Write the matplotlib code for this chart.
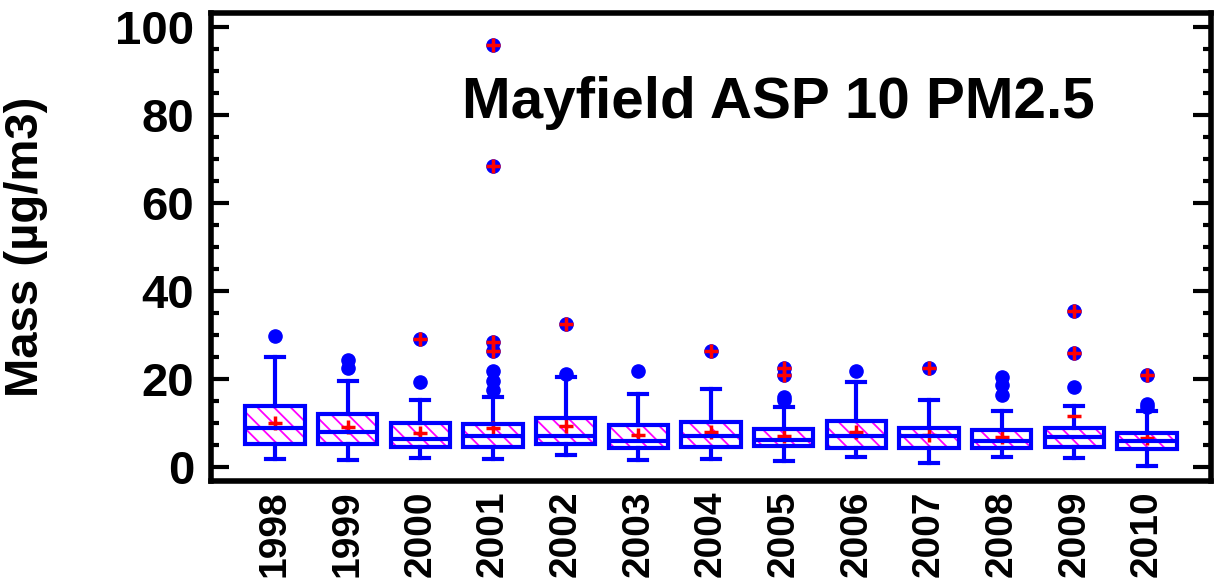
import numpy as np
import matplotlib
matplotlib.use("Agg")
import matplotlib.pyplot as plt
from matplotlib.patches import PathPatch

plt.rcParams['font.family'] = ['Liberation Sans', 'DejaVu Sans']
plt.rcParams['font.weight'] = 'bold'
plt.rcParams['hatch.linewidth'] = 1.3

# Data (ug/m3)
years = [1998, 1999, 2000, 2001, 2002, 2003, 2004, 2005, 2006, 2007, 2008, 2009, 2010]
q1 = [5.2, 5.2, 4.6, 4.6, 5.2, 4.2, 4.6, 4.8, 4.4, 4.4, 4.2, 4.6, 4.1]
med = [8.8, 8.0, 6.4, 7.0, 7.0, 6.0, 7.1, 6.1, 7.0, 7.1, 5.9, 6.9, 5.9]
q3 = [13.9, 12.0, 9.9, 9.8, 11.1, 9.6, 10.1, 8.6, 10.5, 8.9, 8.4, 8.8, 7.8]
whislo = [1.75, 1.6, 2.1, 1.8, 2.7, 1.6, 1.8, 1.4, 2.2, 0.9, 2.2, 2.1, 0.1]
whishi = [25.1, 19.5, 15.2, 16.0, 20.4, 16.6, 17.7, 13.6, 19.4, 15.2, 12.8, 13.9, 12.8]
means = [9.9, 9.0, 7.8, 8.8, 9.2, 7.3, 8.0, 7.0, 8.0, 7.3, 6.9, np.nan, 6.5]
outliers = [
    [29.8],
    [22.6, 24.3],
    [19.2, 29.1],
    [17.5, 19.5, 21.9, 26.4, 28.5, 68.4, 96.0],
    [21.1, 32.5],
    [21.8],
    [26.4],
    [15.2, 15.9, 20.9, 22.4],
    [21.9],
    [22.5],
    [16.4, 18.6, 20.4],
    [18.1, 25.8, 35.5],
    [13.7, 14.3, 20.9],
]
# outliers flagged with a red cross
extreme_years = [2000, 2001, 2001, 2001, 2001, 2002, 2004, 2005, 2005, 2007, 2009, 2009, 2010]
extreme_vals = [29.1, 26.4, 28.5, 68.4, 96.0, 32.5, 26.4, 20.9, 22.4, 22.5, 25.8, 35.5, 20.9]
dash_years = [2009]
dash_vals = [11.6]

pos = np.arange(1, len(years) + 1)
ypos = dict(zip(years, pos))

stats = []
for i in range(len(years)):
    stats.append(dict(q1=q1[i], med=med[i], q3=q3[i], whislo=whislo[i],
                      whishi=whishi[i], fliers=outliers[i], label=str(years[i])))

fig = plt.figure(figsize=(12.15, 5.81), dpi=100)
ax = fig.add_axes([211/1215, 1 - 481/581, 1000/1215, 468/581])

blue = '#0000ff'
bp = ax.bxp(stats, positions=pos, widths=0.82, capwidths=0.25, patch_artist=True,
            boxprops=dict(facecolor='white', edgecolor='magenta', hatch='\\\\', linewidth=0),
            whiskerprops=dict(color=blue, linewidth=3),
            capprops=dict(color=blue, linewidth=3),
            medianprops=dict(color=blue, linewidth=3),
            flierprops=dict(marker='o', markerfacecolor=blue, markeredgecolor=blue,
                            markersize=9.5, linestyle='none'))

# blue outline over the magenta-hatched boxes
for b in bp['boxes']:
    ax.add_patch(PathPatch(b.get_path(), fill=False, edgecolor=blue, linewidth=3, zorder=2.2))

# means (under the median line)
ax.plot(pos, means, linestyle='none', marker='+', color='red', markersize=10,
        markeredgewidth=2.5, zorder=2.05)
ax.plot([ypos[y] for y in extreme_years], extreme_vals, linestyle='none', marker='+',
        color='red', markersize=10, markeredgewidth=2.5, zorder=3)
ax.plot([ypos[y] for y in dash_years], dash_vals, linestyle='none', marker='_',
        color='red', markersize=10, markeredgewidth=2.5, zorder=3)

ax.set_xlim(0.12, 13.88)
ax.set_ylim(-3.2, 103.2)
ax.set_yticks([0, 20, 40, 60, 80, 100])
ax.set_yticks(np.arange(0, 101, 5), minor=True)
ax.set_xticks(pos)
ax.set_xticklabels([str(y) for y in years], rotation=90, fontsize=28, fontweight='bold')
for lab in ax.get_yticklabels():
    lab.set_fontweight('bold')

ax.tick_params(axis='y', which='both', direction='in', left=True, right=True, width=3)
ax.tick_params(axis='y', which='major', length=13, labelsize=34, pad=12)
ax.tick_params(axis='y', which='minor', length=6)
ax.tick_params(axis='x', which='both', length=0, pad=7)
for s in ax.spines.values():
    s.set_linewidth(4)

ax.set_ylabel("Mass (µg/m3)", fontsize=34, fontweight='bold')
ax.yaxis.set_label_coords(-0.163, 0.5)

ax.text(0.2505, 0.776, "Mayfield ASP 10 PM2.5", transform=ax.transAxes,
        fontsize=42, fontweight='bold', va='baseline', ha='left')

fig.savefig("out.png", dpi=100)
